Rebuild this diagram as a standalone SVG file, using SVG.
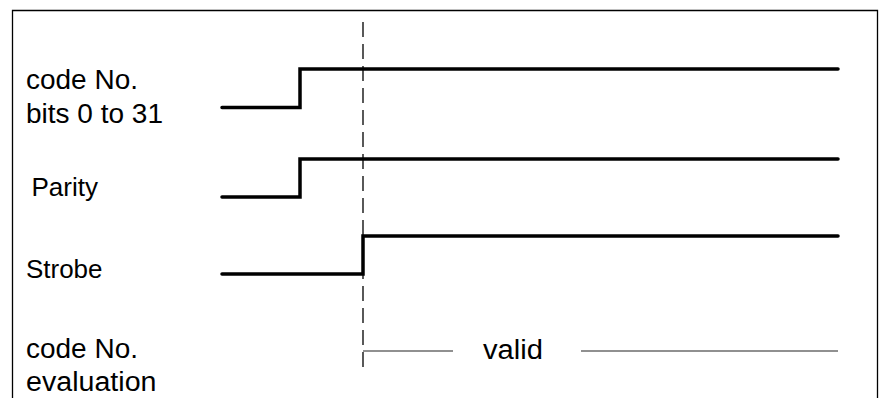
<svg xmlns="http://www.w3.org/2000/svg" width="880" height="398" viewBox="0 0 880 398">
  <style>
    .lbl { font-family: "Liberation Sans", Arial, sans-serif; fill: #000; }
    .big { font-size: 27px; }
    .small { font-size: 25px; }
    .sig { fill: none; stroke: #000; stroke-width: 3.5; stroke-linejoin: miter; stroke-linecap: round; }
    .thin { fill: none; stroke: #222; stroke-width: 1.2; }
    .dash { fill: none; stroke: #000; stroke-width: 1.3; stroke-dasharray: 15 7; }
  </style>
  <rect width="880" height="398" fill="#fff"/>
  <!-- frame, open at the bottom -->
  <path d="M12.5,400 V10.5 H877.5 V400" fill="none" stroke="#000" stroke-width="1.3"/>

  <g id="labels">
    <g id="code-no">
      <text class="lbl big" x="26" y="88.5" textLength="112" lengthAdjust="spacingAndGlyphs">code No.</text>
      <text class="lbl big" x="26" y="122.5" textLength="137" lengthAdjust="spacingAndGlyphs">bits 0 to 31</text>
    </g>
    <g id="parity">
      <text class="lbl small" x="31.5" y="196" textLength="66.5" lengthAdjust="spacingAndGlyphs">Parity</text>
    </g>
    <g id="strobe">
      <text class="lbl small" x="26" y="277.5" textLength="76.5" lengthAdjust="spacingAndGlyphs">Strobe</text>
    </g>
    <g id="evaluation">
      <text class="lbl big" x="26" y="357.5" textLength="112" lengthAdjust="spacingAndGlyphs">code No.</text>
      <text class="lbl big" x="26" y="391" textLength="130.5" lengthAdjust="spacingAndGlyphs">evaluation</text>
    </g>
  </g>

  <g id="connectors">
    <!-- reference time marker -->
    <line class="dash" x1="363" y1="22" x2="363" y2="367"/>
    <!-- signal traces -->
    <path class="sig" d="M222,107.5 H300 V69 H838"/>
    <path class="sig" d="M222,197 H300 V159 H838"/>
    <path class="sig" d="M222,274 H363 V236 H838"/>
    <!-- validity span -->
    <path class="thin" d="M363,351 H453 M581,351 H838"/>
    <text class="lbl big" x="483" y="358.5" textLength="60" lengthAdjust="spacingAndGlyphs">valid</text>
  </g>
</svg>
